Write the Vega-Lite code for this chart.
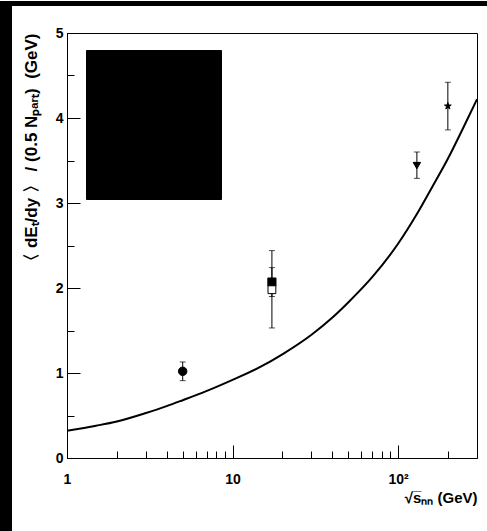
{
  "$schema": "https://vega.github.io/schema/vega-lite/v6.json",
  "padding": 0,
  "background": "white",
  "datasets": {
    "points": [
      {"series": "E814/877", "sqrt_s": 5.0, "et": 1.02, "lo": 0.91, "hi": 1.13},
      {"series": "NA49", "sqrt_s": 17.3, "et": 2.07, "lo": 1.90, "hi": 2.24},
      {"series": "WA98", "sqrt_s": 17.3, "et": 1.98, "lo": 1.53, "hi": 2.44},
      {"series": "PHENIX", "sqrt_s": 130, "et": 3.44, "lo": 3.29, "hi": 3.60},
      {"series": "STAR", "sqrt_s": 200, "et": 4.14, "lo": 3.86, "hi": 4.42}
    ],
    "ekrt": [
      {"sqrt_s": 1, "et": 0.32},
      {"sqrt_s": 1.5, "et": 0.38},
      {"sqrt_s": 2, "et": 0.43},
      {"sqrt_s": 3, "et": 0.53},
      {"sqrt_s": 4, "et": 0.61},
      {"sqrt_s": 5, "et": 0.68},
      {"sqrt_s": 7, "et": 0.79},
      {"sqrt_s": 10, "et": 0.92},
      {"sqrt_s": 15, "et": 1.08},
      {"sqrt_s": 20, "et": 1.22},
      {"sqrt_s": 30, "et": 1.45},
      {"sqrt_s": 40, "et": 1.65},
      {"sqrt_s": 50, "et": 1.83},
      {"sqrt_s": 70, "et": 2.13},
      {"sqrt_s": 100, "et": 2.52},
      {"sqrt_s": 130, "et": 2.87},
      {"sqrt_s": 160, "et": 3.18},
      {"sqrt_s": 200, "et": 3.52},
      {"sqrt_s": 250, "et": 3.90},
      {"sqrt_s": 300, "et": 4.22}
    ]
  },
  "config": {
    "view": {"stroke": "black", "strokeWidth": 1},
    "font": "Liberation Sans",
    "axis": {
      "labelFont": "Liberation Sans", "labelFontSize": 14, "labelFontWeight": "bold", "labelColor": "black",
      "titleFont": "Liberation Sans", "titleFontSize": 15, "titleFontWeight": "bold", "titleColor": "black",
      "domainColor": "black", "domainWidth": 1, "tickColor": "black", "tickWidth": 1, "grid": false, "labelFlush": false
    },
    "legend": {
      "labelFont": "Liberation Sans", "labelFontSize": 16, "labelFontWeight": "normal"
    }
  },
  "resolve": {"scale": {"shape": "independent", "fill": "independent", "stroke": "independent", "size": "independent", "opacity": "independent"}},
  "bounds": "flush",
  "spacing": 0,
  "hconcat": [
    {
      "width": 12, "height": 531,
      "view": {"fill": "black", "stroke": null},
      "data": {"values": [{}]},
      "mark": {"type": "point", "opacity": 0}
    },
    {
      "resolve": {"scale": {"shape": "independent", "fill": "independent", "stroke": "independent", "size": "independent", "opacity": "independent"}},
      "bounds": "flush",
      "spacing": 27,
      "vconcat": [
        {
          "width": 475, "height": 5,
          "view": {"fill": "black", "stroke": null},
          "data": {"values": [{}]},
          "mark": {"type": "point", "opacity": 0}
        },
        {
          "resolve": {"scale": {"shape": "independent", "fill": "independent", "stroke": "independent", "size": "independent", "opacity": "independent"}},
          "bounds": "flush",
          "spacing": 54,
          "hconcat": [
            {
              "width": 1, "height": 1,
              "view": {"stroke": null},
              "data": {"values": [{}]},
              "mark": {"type": "point", "opacity": 0}
            },
            {
              "width": 410, "height": 425,
              "view": {"stroke": "black", "strokeWidth": 1, "fill": "white"},
              "layer": [
                {
                  "data": {"name": "ekrt"},
                  "mark": {"type": "line", "color": "black", "strokeWidth": 2, "interpolate": "monotone", "clip": true},
                  "encoding": {
                    "x": {
                      "field": "sqrt_s", "type": "quantitative",
                      "scale": {"type": "log", "domain": [1, 300], "nice": false},
                      "axis": {
                        "orient": "bottom", "values": [1, 10, 100], "format": "d",
                        "labelExpr": "datum.value > 99 ? '10²' : datum.label",
                        "tickSize": -13, "labelPadding": 27,
                        "title": "√s̅ₙₙ (GeV)", "titleAnchor": "end", "titlePadding": 4
                      }
                    },
                    "y": {
                      "field": "et", "type": "quantitative",
                      "scale": {"domain": [0, 5], "nice": false, "zero": false},
                      "axis": {
                        "orient": "left", "values": [0, 1, 2, 3, 4, 5], "format": "d",
                        "tickSize": -13, "labelPadding": 17,
                        "title": "〈\u00a0dEₜ/dy\u00a0〉\u00a0/\u00a0(0.5\u00a0Nₚₐᵣₜ)\u00a0\u00a0(GeV)", "titleFontSize": 17,
                        "titleAnchor": "end", "titlePadding": 15
                      }
                    }
                  }
                },
                {
                  "data": {"name": "points"},
                  "mark": {"type": "rule", "color": "black", "strokeWidth": 1},
                  "encoding": {
                    "x": {
                      "field": "sqrt_s", "type": "quantitative",
                      "scale": {"type": "log", "domain": [1, 300], "nice": false},
                      "axis": {
                        "orient": "bottom", "values": [2, 3, 4, 5, 6, 7, 8, 9, 20, 30, 40, 50, 60, 70, 80, 90, 200],
                        "tickSize": -7, "labels": false, "domain": false, "title": null
                      }
                    },
                    "y": {
                      "field": "lo", "type": "quantitative",
                      "scale": {"domain": [0, 5], "nice": false, "zero": false},
                      "axis": {
                        "orient": "left", "values": [0.5, 1.5, 2.5, 3.5, 4.5],
                        "tickSize": -7, "labels": false, "domain": false, "title": null
                      }
                    },
                    "y2": {"field": "hi"}
                  }
                },
                {
                  "data": {"name": "points"},
                  "transform": [{"fold": ["lo", "hi"], "as": ["end", "bound"]}],
                  "mark": {"type": "tick", "orient": "horizontal", "color": "black", "thickness": 1, "size": 6},
                  "encoding": {
                    "x": {"field": "sqrt_s", "type": "quantitative", "scale": {"type": "log", "domain": [1, 300], "nice": false}, "axis": null},
                    "y": {"field": "bound", "type": "quantitative", "scale": {"domain": [0, 5], "nice": false, "zero": false}, "axis": null}
                  }
                },
                {
                  "data": {"name": "points"},
                  "mark": {"type": "point", "filled": true, "strokeWidth": 1},
                  "encoding": {
                    "x": {"field": "sqrt_s", "type": "quantitative", "scale": {"type": "log", "domain": [1, 300], "nice": false}, "axis": null},
                    "y": {"field": "et", "type": "quantitative", "scale": {"domain": [0, 5], "nice": false, "zero": false}, "axis": null},
                    "shape": {
                      "field": "series", "type": "nominal",
                      "scale": {
                        "domain": ["E814/877", "NA49", "WA98", "PHENIX", "STAR", "EKRT model"],
                        "range": ["circle", "square", "square", "triangle-down", "M0,-1L0.225,-0.309L0.951,-0.309L0.363,0.118L0.588,0.809L0,0.382L-0.588,0.809L-0.363,0.118L-0.951,-0.309L-0.225,-0.309Z", "stroke"]
                      },
                      "legend": {
                        "title": null, "orient": "none", "legendX": 15, "legendY": 12, "zindex": 2,
                        "fillColor": "#f4f4f4", "strokeColor": "black", "padding": 5, "cornerRadius": 0,
                        "rowPadding": 8.5, "symbolOffset": 4, "labelOffset": 14, "symbolSize": 81, "labelColor": "black",
                        "symbolOpacity": 1, "symbolStrokeWidth": 1.5,
                        "labelExpr": "datum.label === 'EKRT model' ? 'EKRT model\u00a0\u00a0\u00a0' : datum.label"
                      }
                    },
                    "fill": {
                      "field": "series", "type": "nominal",
                      "scale": {
                        "domain": ["E814/877", "NA49", "WA98", "PHENIX", "STAR", "EKRT model"],
                        "range": ["black", "black", "white", "black", "black", "black"]
                      },
                      "legend": {
                        "title": null, "orient": "none", "legendX": 15, "legendY": 12, "zindex": 2,
                        "fillColor": "#f4f4f4", "strokeColor": "black", "padding": 5, "cornerRadius": 0,
                        "rowPadding": 8.5, "symbolOffset": 4, "labelOffset": 14, "symbolSize": 81, "labelColor": "black",
                        "symbolOpacity": 1, "symbolStrokeWidth": 1.5,
                        "labelExpr": "datum.label === 'EKRT model' ? 'EKRT model\u00a0\u00a0\u00a0' : datum.label"
                      }
                    },
                    "stroke": {
                      "field": "series", "type": "nominal",
                      "scale": {
                        "domain": ["E814/877", "NA49", "WA98", "PHENIX", "STAR", "EKRT model"],
                        "range": ["black", "black", "black", "black", "black", "black"]
                      },
                      "legend": {
                        "title": null, "orient": "none", "legendX": 15, "legendY": 12, "zindex": 2,
                        "fillColor": "#f4f4f4", "strokeColor": "black", "padding": 5, "cornerRadius": 0,
                        "rowPadding": 8.5, "symbolOffset": 4, "labelOffset": 14, "symbolSize": 81, "labelColor": "black",
                        "symbolOpacity": 1, "symbolStrokeWidth": 1.5,
                        "labelExpr": "datum.label === 'EKRT model' ? 'EKRT model\u00a0\u00a0\u00a0' : datum.label"
                      }
                    },
                    "size": {
                      "field": "series", "type": "ordinal",
                      "scale": {
                        "domain": ["E814/877", "NA49", "WA98", "PHENIX", "STAR", "EKRT model"],
                        "range": [72, 45, 45, 72, 150, 676]
                      },
                      "legend": null
                    },
                    "opacity": {
                      "field": "series", "type": "ordinal",
                      "scale": {
                        "domain": ["EKRT model", "STAR", "PHENIX", "WA98", "NA49", "E814/877"],
                        "range": [1, 1, 1, 1, 1, 1]
                      },
                      "legend": {
                        "title": null, "orient": "none", "legendX": 19, "legendY": 17, "zindex": 1,
                        "fillColor": "black", "strokeColor": "black", "padding": 5, "cornerRadius": 0,
                        "rowPadding": 8.5, "symbolOffset": 4, "labelOffset": 14, "symbolSize": 81, "labelColor": "black",
                        "symbolStrokeWidth": 1.5,
                        "labelExpr": "datum.label === 'EKRT model' ? 'EKRT model\u00a0\u00a0\u00a0' : datum.label",
                        "encode": {
                          "symbols": {
                            "update": {
                              "shape": {"value": "square"},
                              "fill": {"value": "black"},
                              "stroke": {"value": "black"},
                              "opacity": {"value": 1}
                            }
                          }
                        }
                      }
                    }
                  }
                }
              ],
              "resolve": {"axis": {"x": "independent", "y": "independent"}}
            }
          ]
        }
      ]
    }
  ]
}
